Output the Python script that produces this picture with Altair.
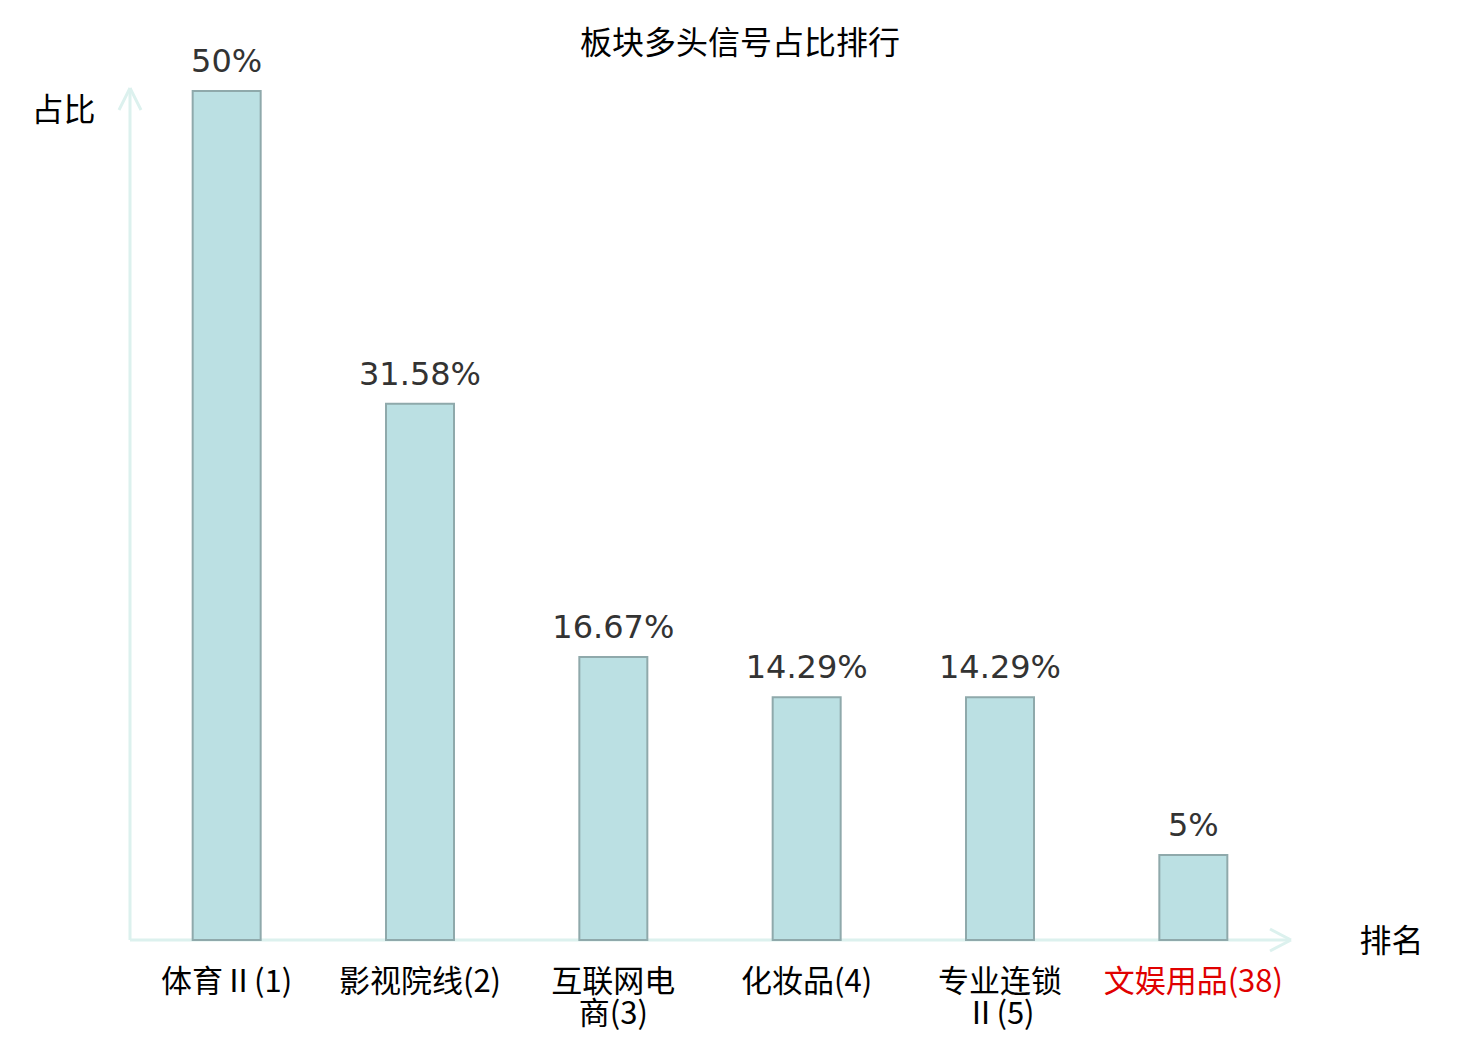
import altair as alt
import pandas as pd

categories = ["体育Ⅱ(1)", "影视院线(2)", "互联网电\n商(3)", "化妆品(4)", "专业连锁\nⅡ(5)", "文娱用品(38)"]
values = [50, 31.58, 16.67, 14.29, 14.29, 5]
highlight = "文娱用品(38)"
title_text = "板块多头信号占比排行"
y_title = "占比"
x_title = "排名"

df = pd.DataFrame({"cat": categories, "v": values})
dummy = pd.DataFrame({"a": [0]})

W, H = 1160, 849
CJK = "Noto Sans CJK SC"
AX = "#dcf1ee"

x_enc = alt.X(
    "cat:N",
    sort=categories,
    scale=alt.Scale(paddingInner=0, paddingOuter=0),
    axis=alt.Axis(
        title=x_title, titleX=1261, titleY=1, titleAngle=0, titleAlign="center",
        titleBaseline="middle", titleFont=CJK, titleFontSize=32, titleFontWeight="normal",
        titleColor="black",
        labelAngle=0, labelExpr="split(datum.label, '\\n')", labelLineHeight=32,
        labelFontSize=31, labelFont=CJK, labelPadding=27, labelBaseline="top", labelLimit=0,
        labelColor={"condition": {"test": f"datum.value === '{highlight}'", "value": "#e00000"}, "value": "black"},
        domain=False, ticks=False, grid=False,
    ),
)
y_enc = alt.Y(
    "v:Q",
    scale=alt.Scale(domain=[0, 50], nice=False, zero=True),
    axis=alt.Axis(
        title=y_title, titleX=-67, titleY=19, titleAngle=0, titleAlign="center",
        titleBaseline="middle", titleFont=CJK, titleFontSize=32, titleFontWeight="normal",
        titleColor="black", labels=False, ticks=False, domain=False, grid=False,
    ),
)

base = alt.Chart(df)
bars = base.mark_bar(size=68, fill="#bbe0e3", stroke="#8fa9ab", strokeWidth=2).encode(x=x_enc, y=y_enc)
labels = base.transform_calculate(
    lab="format(datum.v, '.2~f') + '%'"
).mark_text(font="DejaVu Sans", fontSize=32, color="#333333", baseline="alphabetic", dy=-19).encode(
    x=alt.X("cat:N", sort=categories), y="v:Q", text="lab:N"
)

deco = alt.Chart(dummy)
ln = dict(color=AX, strokeWidth=3)
xaxis = deco.mark_rule(**ln).encode(x=alt.value(0), x2=alt.value(W), y=alt.value(H))
yaxis = deco.mark_rule(**ln).encode(x=alt.value(0), y=alt.value(-3), y2=alt.value(H))
ya1 = deco.mark_rule(**ln).encode(x=alt.value(0), y=alt.value(-3), x2=alt.value(-11), y2=alt.value(19))
ya2 = deco.mark_rule(**ln).encode(x=alt.value(0), y=alt.value(-3), x2=alt.value(11), y2=alt.value(19))
xa1 = deco.mark_rule(**ln).encode(x=alt.value(W + 1), y=alt.value(H), x2=alt.value(W - 20), y2=alt.value(H - 11))
xa2 = deco.mark_rule(**ln).encode(x=alt.value(W + 1), y=alt.value(H), x2=alt.value(W - 20), y2=alt.value(H + 11))
title = deco.mark_text(font=CJK, fontSize=32, color="black", baseline="middle", align="center").encode(
    x=alt.value(610), y=alt.value(-47), text=alt.value(title_text)
)

chart = alt.layer(xaxis, yaxis, ya1, ya2, xa1, xa2, bars, labels, title).properties(
    width=W, height=H,
    autosize=alt.AutoSizeParams(type="none"),
    padding={"left": 122, "top": 83, "right": 182, "bottom": 92},
).configure_view(stroke=None)

chart.save("out.html", embed_options={"renderer": "svg", "actions": False})
